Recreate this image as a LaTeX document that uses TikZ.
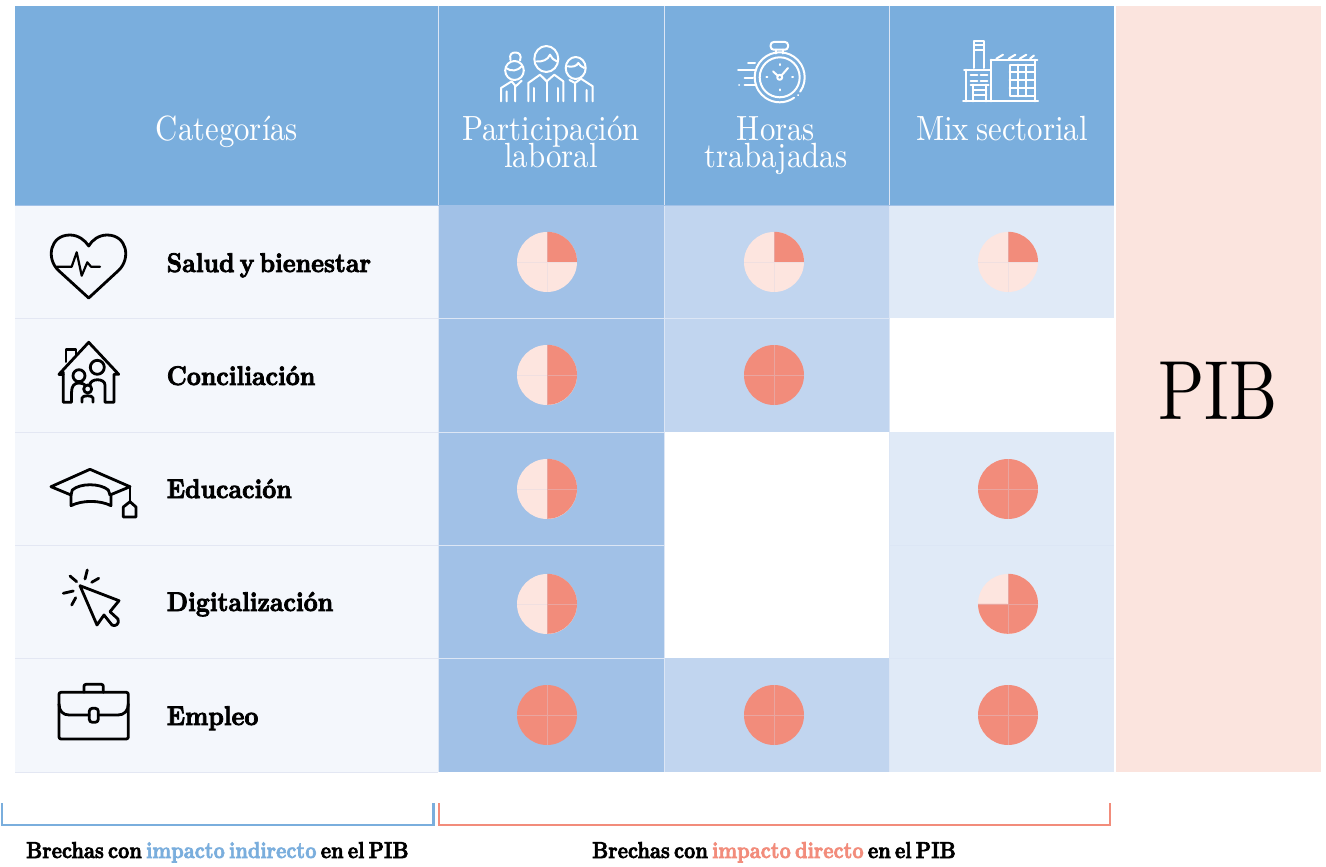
\documentclass[tikz,border=0pt]{standalone}
\usepackage{graphicx}
\usepackage{fontspec}
\newfontfamily\heavyf[Extension=.otf,FakeBold=3,WordSpace=0.55]{lmroman10-bold}
\newfontfamily\hdf[Extension=.otf,WordSpace=0.7]{lmroman10-regular}
\definecolor{hdr}{HTML}{7AAEDD}
\definecolor{cola}{HTML}{A1C1E7}
\definecolor{colb}{HTML}{C1D5EF}
\definecolor{colc}{HTML}{E0EAF7}
\definecolor{leftc}{HTML}{F4F7FC}
\definecolor{rule}{HTML}{E3E7F3}
\definecolor{pibc}{HTML}{FBE4DE}
\definecolor{pielight}{HTML}{FDE5DF}
\definecolor{piedark}{HTML}{F28C7B}
\definecolor{gridw}{HTML}{DCE6F5}
\definecolor{crossc}{HTML}{D9D4E4}
\tikzset{
  pie/.style={circle,minimum size=60pt,inner sep=0pt,fill=pielight},
  piefull/.style={circle,minimum size=60pt,inner sep=0pt,fill=piedark},
  cross/.style={line width=.6pt,draw=crossc,opacity=.35},
  wedge/.style={fill=piedark},
  hdtext/.style={text=white,inner sep=0pt,align=center,font=\hdf\fontsize{35}{27}\selectfont},
  rowtext/.style={anchor=base west,inner sep=0pt,font=\heavyf\fontsize{27}{27}\selectfont},
  captext/.style={anchor=base west,inner sep=0pt,font=\heavyf\fontsize{23}{23}\selectfont},
  ico/.style={draw=black,line width=2.8pt,line join=round,line cap=round},
  wico/.style={draw=white,line width=2pt,line join=round,line cap=round},
  bracket/.style={line width=2.4pt}
}
\newcommand{\piecross}[1]{\draw[cross] (#1.west) -- (#1.east) (#1.north) -- (#1.south);}
\newcommand{\hz}[1]{\scalebox{.9}[1]{#1}}
\newcommand{\hzc}[1]{\scalebox{.855}[1]{#1}}
\newcommand{\hzh}[1]{\scalebox{.88}[1]{#1}}
\begin{document}
\begin{tikzpicture}[x=1pt,y=-1pt]
\useasboundingbox (0,0) rectangle (1326,867);
\fill[white] (0,0) rectangle (1326,867);
% backgrounds
\fill[hdr] (15,6) rectangle (1114,205);
\fill[leftc] (15,205) rectangle (438,772);
\fill[cola] (438,205) rectangle (664,772);
\fill[colb] (664,205) rectangle (889,432);
\fill[colb] (664,658) rectangle (889,772);
\fill[colc] (889,205) rectangle (1114,318);
\fill[colc] (889,432) rectangle (1114,772);
\fill[pibc] (1116,6) rectangle (1321,772);
% grid
\draw[line width=1pt,rule] (15,318) -- (438,318) (15,432) -- (438,432) (15,545) -- (438,545) (15,658) -- (438,658) (15,772) -- (438,772);
\draw[line width=1pt,gridw] (438,318) -- (889,318) (438,432) -- (664,432) (438,545) -- (664,545) (438,658) -- (664,658) (889,545) -- (1114,545) (889,658) -- (1114,658);
\draw[line width=1pt,gridw] (438,6) -- (438,772) (664,6) -- (664,772) (889,6) -- (889,772);
\fill[white] (665,433) rectangle (889,658);
\fill[white] (890,319) rectangle (1114,432);
\draw[line width=1pt,cola] (15,205) -- (1114,205);
% header text
\node[hdtext] (tcat) at (227,132) {\hzh{Categorías}};
\node[hdtext] (tpart) at (551,146) {\hzh{\begin{tabular}{@{}c@{}}Participación\\[-5pt]laboral\end{tabular}}};
\node[hdtext] (thoras) at (776,146) {\hzh{\begin{tabular}{@{}c@{}}Horas\\[-5pt]trabajadas\end{tabular}}};
\node[hdtext] (tmix) at (1002,129) {\hzh{Mix sectorial}};
\node[inner sep=0pt,font=\hdf\fontsize{84}{84}\selectfont] (tpib) at (1218,391) {\scalebox{.81}[1]{PIB}};
% rows
\node[rowtext] (r1) at (166.5,272) {\hz{Salud y bienestar}};
\node[rowtext] (r2) at (166.5,385) {\hz{Conciliación}};
\node[rowtext] (r3) at (166.5,498) {\hz{Educación}};
\node[rowtext] (r4) at (166.5,611) {\hz{Digitalización}};
\node[rowtext] (r5) at (166.5,725) {\hz{Empleo}};
% pies
\foreach \n/\x/\y in {a1/547/262,b1/774/262,c1/1008/262}{
  \node[pie] (\n) at (\x,\y) {};
  \fill[wedge] (\n.center) -- (\n.north) arc[start angle=90,end angle=0,radius=30pt] -- cycle;
  \piecross{\n}
}
\foreach \n/\x/\y in {a2/547/375,a3/547/489,a4/547/604}{
  \node[pie] (\n) at (\x,\y) {};
  \fill[wedge] (\n.north) arc[start angle=90,end angle=-90,radius=30pt] -- cycle;
  \piecross{\n}
}
\foreach \n/\x/\y in {b2/774/375,c3/1008/489,a5/547/715,b5/774/715,c5/1008/715}{
  \node[piefull] (\n) at (\x,\y) {};
  \piecross{\n}
}
\node[pie] (c4) at (1008,604) {};
\fill[wedge] (c4.center) -- (c4.north) arc[start angle=90,end angle=-180,radius=30pt] -- cycle;
\piecross{c4}
% heart
\draw[ico] (88.7,298) -- (58,270) .. controls (46,258) and (50,235) .. (70,235) .. controls (78,235) and (85,240) .. (88.7,246) .. controls (92,240) and (99,235) .. (107,235) .. controls (127,235) and (131,258) .. (119,270) -- cycle;
\draw[ico,line width=2.2pt] (56.7,266.7) -- (71.7,266.7) -- (76.7,252.3) -- (81.7,275.7) -- (87.3,262.3) -- (91,266.7) -- (100,266.7);
% house
\draw[ico] (63.3,372) -- (63.3,402.3) -- (71.5,402.3) -- (71.5,393) .. controls (71.5,386) and (74,383) .. (79,383) .. controls (82,383) and (84,384) .. (85,385);
\draw[ico] (59,374.3) -- (88.7,342.3) -- (118.7,374.3) -- (114,374.3) -- (114,402.3) -- (105,402.3) -- (105,385) .. controls (105,378) and (90,378) .. (90,385) -- (90,383);
\draw[ico] (59,374.3) -- (63.3,374.3);
\draw[ico] (66,361.7) -- (66,349.3) -- (76,349.3) -- (76,355);
\draw[ico] (79,375.7) circle[radius=6pt];
\draw[ico] (97.3,367.3) circle[radius=7pt];
\draw[ico] (87.7,389) circle[radius=4pt];
\draw[ico] (82,402.3) -- (82,398) .. controls (82,395) and (93,395) .. (93,398) -- (93,402.3);
% cap
\draw[ico] (90,469.3) -- (51,486.7) -- (71,495) (90,469.3) -- (130,486.7) -- (110,495);
\draw[ico] (71,495) -- (71,505.7) .. controls (82,500) and (100,500) .. (111,505.7) -- (111,495);
\draw[ico] (71,495) -- (72.3,490) .. controls (80,483) and (100,483) .. (108.3,490) -- (110,495);
\draw[ico] (130,486.7) -- (130,501.7);
\draw[ico] (130,501.7) -- (123.3,507) -- (123.3,517) -- (136,517) -- (136,507) -- cycle;
% cursor
\draw[ico] (80,585.7) -- (119,600.7) -- (110,611.7) -- (118,619) .. controls (120,624) and (115,627) .. (112,625) -- (104,615) -- (97,625) -- cycle;
\draw[ico] (70,576) -- (76.7,581.7) (87.3,570) -- (85,579) (98.7,578.3) -- (91.7,582.3) (63.3,593.3) -- (73.3,591) (71.7,605) -- (75.7,597.7);
% briefcase
\draw[ico,rounded corners=2pt] (59,692.3) rectangle (128.3,739);
\draw[ico,rounded corners=2pt] (84,692.3) -- (84,684.3) -- (103.3,684.3) -- (103.3,692.3);
\draw[ico] (59,704) .. controls (59,711) and (63,715) .. (69,715) -- (89.3,715) (98.3,715) -- (118,715) .. controls (124,715) and (128.3,711) .. (128.3,704);
\draw[ico,rounded corners=3pt] (89.3,708.3) rectangle (98.3,722.3);
% people: woman
\draw[wico] (514.5,70.5) ellipse[x radius=9.3pt,y radius=9.5pt];
\draw[wico] (510.5,60) .. controls (509,54) and (512,52.5) .. (515.5,52.5) .. controls (519,52.5) and (522,55) .. (520,60.5);
\draw[wico] (506,68) .. controls (511,72) and (518,71) .. (522,66);
\draw[wico] (501,101.3) -- (501,88) -- (511.7,81.3) -- (515.7,86.3) -- (521.7,80.7) (506.7,101.3) -- (506.7,91.3) (515.2,86.3) -- (515.2,101.3);
% people: man
\draw[wico] (546.3,59) ellipse[x radius=12pt,y radius=13pt];
\draw[wico] (536.7,61.3) .. controls (542,62) and (548,60) .. (550,54.7) .. controls (551,58) and (554,60) .. (556.7,61.3);
\draw[wico] (528.3,101.3) -- (528.3,83) -- (540,74.7) -- (546.7,81.3) -- (554.3,74.7) -- (563.3,81.3) -- (563.3,101.3);
\draw[wico] (534.3,101.3) -- (534.3,88) (546.7,81.3) -- (546.7,101.3) (558.3,101.3) -- (558.3,88);
% people: right man
\draw[wico] (575.7,68) ellipse[x radius=10pt,y radius=11pt];
\draw[wico] (567.7,66.3) .. controls (572,67.5) and (577,66) .. (578.3,63) .. controls (579.5,65) and (581.5,67) .. (584.3,68);
\draw[wico] (569.5,80) -- (575,83) -- (581,78.7) -- (592.7,86.3) -- (592.7,101.3) (575,83) -- (575,101.3) (586.7,101.3) -- (586.7,90);
% stopwatch
\draw[wico,rounded corners=3pt] (770.7,42) rectangle (788,49.7);
\draw[wico] (775.7,49.7) -- (775.7,53.5) (783,49.7) -- (783,53.5);
\draw[wico] (779.7,77.3) ++(-35:25pt) arc[start angle=-35,end angle=305,radius=25pt];
\draw[wico] (798,95) -- (798.1,95.1);
\draw[wico] (779.7,77.3) circle[radius=20pt];
\draw[wico] (779.7,77.3) circle[radius=2.5pt];
\draw[wico] (781.3,75.7) -- (788,68) (778,76) -- (773,71.3);
\draw[wico] (779.7,64.2) -- (779.7,65.2) (779.7,89.4) -- (779.7,90.4) (766.3,77.3) -- (767.3,77.3) (792,77.3) -- (793,77.3);
\draw[wico] (748,63) -- (755,63) (738,70.3) -- (754.7,70.3) (744.7,78) -- (753,78) (744.7,85.3) -- (756.3,85.3) (739,85.3) -- (739.1,85.3);
% factory
\draw[wico] (974,68) -- (974,41.3) -- (984,41.3) -- (984,68) (974,45.5) -- (984,45.5) (974,50) -- (984,50);
\draw[wico] (963,101.3) -- (1038,101.3);
\draw[wico] (966.3,101.3) -- (966.3,69.7) (964,69.7) -- (990.7,69.7);
\draw[wico] (991.3,101.3) -- (991.3,59.7) (990.7,59.7) -- (1037.3,59.7) (1035,59.7) -- (1035,65) (1035,96.3) -- (1035,101.3);
\draw[wico] (996.3,58.7) -- (1003,54.7) (1008.7,58.7) -- (1015.3,54.7) (1019.7,58.7) -- (1026.3,54.7) (1030,58.7) -- (1034,55.5);
\draw[wico] (1009.7,64.7) rectangle (1034.7,96.3) (1018,64.7) -- (1018,96.3) (1026.3,64.7) -- (1026.3,96.3) (1009.7,72.3) -- (1034.7,72.3) (1009.7,80.3) -- (1034.7,80.3) (1009.7,88) -- (1034.7,88);
\draw[wico] (970.7,74.7) -- (977.3,74.7) (980.7,74.7) -- (987.3,74.7) (970.7,80.7) -- (977.3,80.7) (980.7,80.7) -- (987.3,80.7);
\draw[wico] (970.7,84.7) -- (988.7,84.7) (973,84.7) -- (973,101.3) (986.3,84.7) -- (986.3,101.3) (973,89.7) -- (986.3,89.7) (973,95.3) -- (986.3,95.3);
% brackets
\coordinate (bl1) at (2,803); \coordinate (bl2) at (2,825); \coordinate (bl3) at (433.5,825); \coordinate (bl4) at (433.5,803);
\coordinate (br1) at (439,803); \coordinate (br2) at (439,825); \coordinate (br3) at (1110,825); \coordinate (br4) at (1110,803);
\draw[bracket,hdr] (bl1) -- (bl2) -- (bl3) -- (bl4);
\draw[bracket,piedark] (br1) -- (br2) -- (br3) -- (br4);
% captions
\node[captext] (cap1) at (26,858) {\hzc{Brechas con {\color{hdr}impacto indirecto} en el PIB}};
\node[captext] (cap2) at (592,858) {\hzc{Brechas con {\color{piedark}impacto directo} en el PIB}};
\end{tikzpicture}
\end{document}
